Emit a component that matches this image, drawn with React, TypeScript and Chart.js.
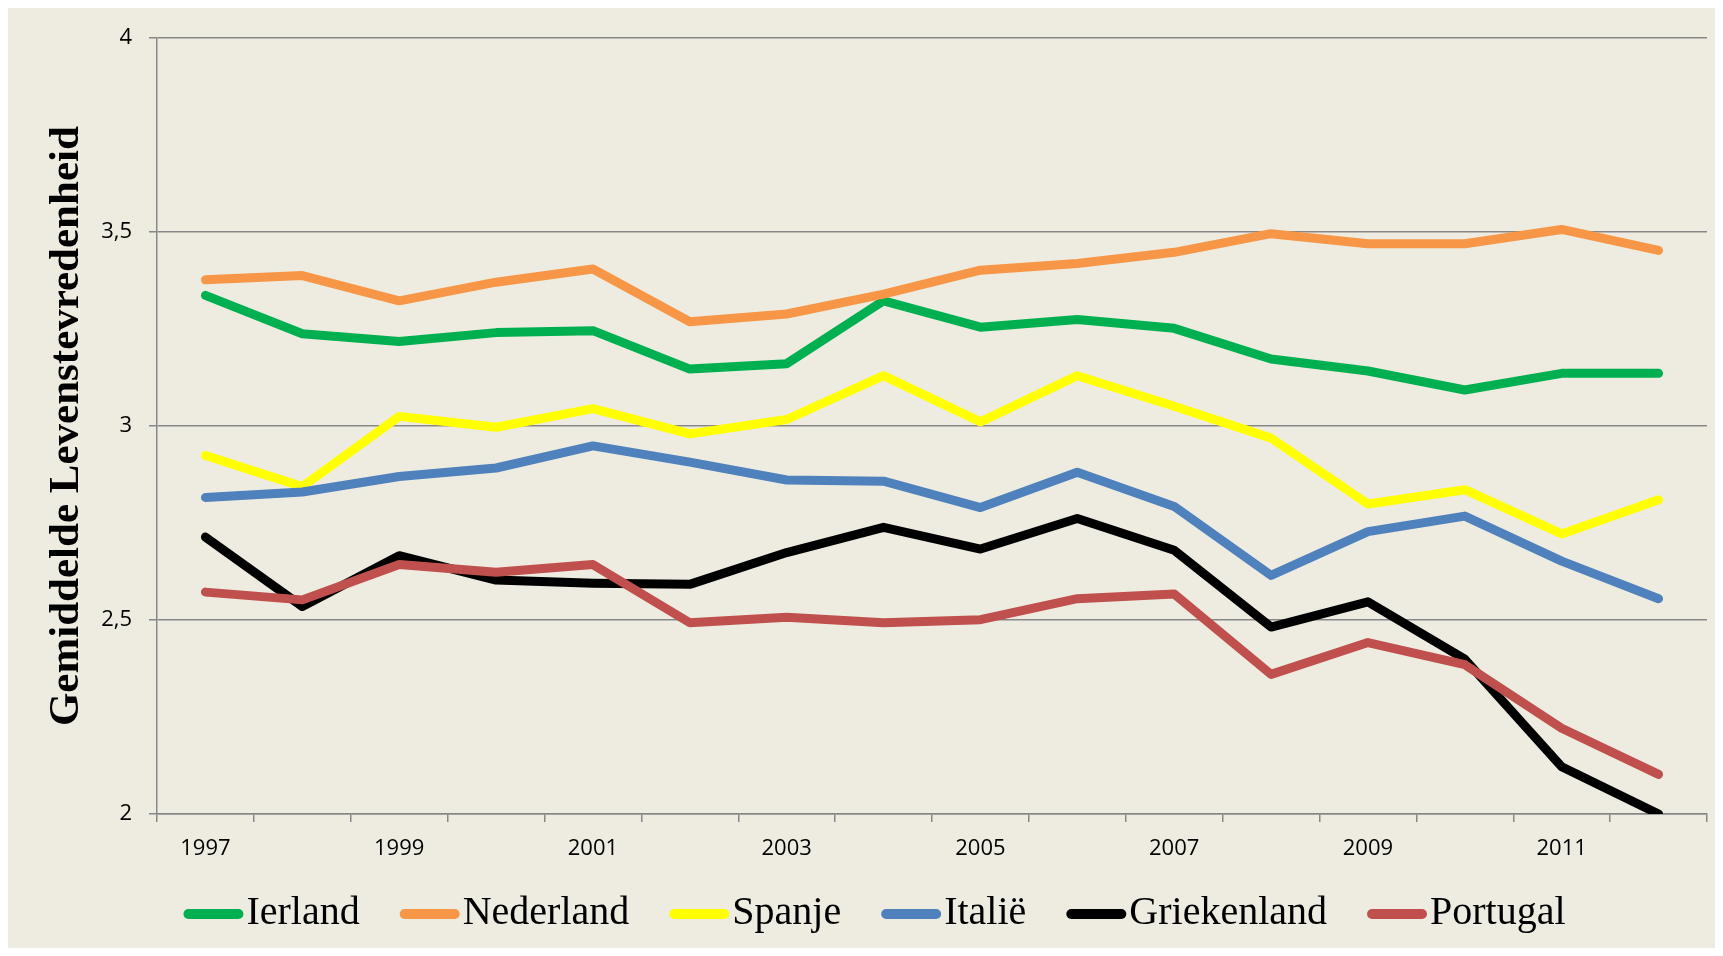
import React, { useEffect, useRef } from 'react';
import { Chart, registerables } from 'chart.js';

Chart.register(...registerables);

const years = ['1997', '1998', '1999', '2000', '2001', '2002', '2003', '2004', '2005', '2006', '2007', '2008', '2009', '2010', '2011', '2012'];

const ierland = [3.337, 3.238, 3.218, 3.241, 3.246, 3.147, 3.161, 3.323, 3.255, 3.275, 3.252, 3.173, 3.142, 3.093, 3.136, 3.136];
const nederland = [3.377, 3.388, 3.323, 3.371, 3.405, 3.269, 3.289, 3.340, 3.402, 3.419, 3.448, 3.496, 3.470, 3.470, 3.507, 3.453];
const spanje = [2.924, 2.844, 3.025, 2.997, 3.045, 2.980, 3.017, 3.130, 3.011, 3.130, 3.051, 2.969, 2.799, 2.836, 2.722, 2.810];
const italie = [2.816, 2.830, 2.870, 2.892, 2.949, 2.907, 2.861, 2.858, 2.790, 2.881, 2.793, 2.615, 2.728, 2.768, 2.652, 2.555];
const griekenland = [2.714, 2.535, 2.666, 2.603, 2.595, 2.592, 2.674, 2.739, 2.683, 2.762, 2.680, 2.482, 2.547, 2.399, 2.122, 2.000];
const portugal = [2.572, 2.552, 2.643, 2.623, 2.643, 2.493, 2.507, 2.493, 2.501, 2.555, 2.567, 2.360, 2.442, 2.385, 2.221, 2.102];

const seriesNames = ['Ierland', 'Nederland', 'Spanje', 'Italië', 'Griekenland', 'Portugal'];
const seriesValues = [ierland, nederland, spanje, italie, griekenland, portugal];
const seriesColors = ['#00B050', '#F79646', '#FFFF00', '#4F81BD', '#000000', '#C0504D'];

const yMin = 2;
const yMax = 4;
const yStep = 0.5;
const yTitle = 'Gemiddelde Levenstevredenheid';

const BG = '#EEECE1';
const AXIS = '#878787';

const bgPlugin = {
  id: 'bgFill',
  beforeDraw(chart: any) {
    const { ctx } = chart;
    ctx.save();
    ctx.fillStyle = BG;
    ctx.fillRect(0, 0, chart.width, chart.height);
    ctx.restore();
  },
};

const legendPlugin = {
  id: 'lineLegend',
  afterDraw(chart: any) {
    const { ctx } = chart;
    ctx.save();
    ctx.font = '40px "Liberation Serif"';
    const lineLen = 50;
    const lw = 10;
    const textGap = 3;
    const itemGap = 40;
    const items = chart.data.datasets.map((ds: any) => ({
      label: ds.label,
      color: ds.borderColor,
      w: ctx.measureText(ds.label).width,
    }));
    const total =
      items.reduce((s: number, it: any) => s + lineLen + lw + textGap + it.w, 0) +
      itemGap * (items.length - 1);
    let x = (chart.width - total) / 2 + 13;
    const y = chart.height - 34;
    for (const it of items) {
      ctx.strokeStyle = it.color;
      ctx.lineWidth = lw;
      ctx.lineCap = 'round';
      ctx.beginPath();
      ctx.moveTo(x + lw / 2, y);
      ctx.lineTo(x + lw / 2 + lineLen, y);
      ctx.stroke();
      x += lineLen + lw + textGap;
      ctx.fillStyle = '#000';
      ctx.textBaseline = 'middle';
      ctx.textAlign = 'left';
      ctx.fillText(it.label, x, y - 1);
      x += it.w + itemGap;
    }
    ctx.restore();
  },
};

export default function App() {
  const canvasRef = useRef<HTMLCanvasElement | null>(null);

  useEffect(() => {
    if (!canvasRef.current) return;
    const chart = new Chart(canvasRef.current, {
      type: 'line',
      data: {
        labels: years,
        datasets: seriesNames.map((name, i) => ({
          label: name,
          data: seriesValues[i],
          borderColor: seriesColors[i],
          backgroundColor: seriesColors[i],
          borderWidth: 9,
          borderCapStyle: 'round',
          borderJoinStyle: 'round',
          pointRadius: 0,
          pointHoverRadius: 0,
          tension: 0,
          fill: false,
          order: seriesNames.length - i,
        })),
      },
      options: {
        responsive: true,
        maintainAspectRatio: false,
        animation: false,
        events: [],
        layout: { padding: { top: 30, right: 8, bottom: 87, left: 0 } },
        plugins: {
          legend: { display: false },
          tooltip: { enabled: false },
          title: { display: false },
        },
        scales: {
          x: {
            type: 'category',
            offset: true,
            grid: {
              display: true,
              drawOnChartArea: false,
              drawTicks: true,
              tickLength: 8,
              offset: true,
              color: AXIS,
              lineWidth: 1.5,
            },
            border: { display: true, color: AXIS, width: 1.5 },
            ticks: {
              autoSkip: false,
              maxRotation: 0,
              minRotation: 0,
              padding: 14,
              color: '#000',
              font: { family: '"Open Sans"', size: 22 },
              callback: function (this: any, _v: any, idx: number) {
                return idx % 2 === 0 ? years[idx] : '';
              },
            },
            afterFit: (scale: any) => {
              scale.height = 47;
            },
          },
          y: {
            type: 'linear',
            min: yMin,
            max: yMax,
            grid: {
              display: true,
              drawOnChartArea: true,
              drawTicks: true,
              tickLength: 8,
              color: AXIS,
              lineWidth: 1.5,
            },
            border: { display: true, color: AXIS, width: 1.5 },
            ticks: {
              stepSize: yStep,
              padding: 17,
              color: '#000',
              font: { family: '"Open Sans"', size: 22 },
              callback: (v: any) => String(v).replace('.', ','),
            },
            title: {
              display: true,
              text: yTitle,
              color: '#000',
              font: { family: '"Liberation Serif"', size: 43, weight: 'bold', lineHeight: 1.2 },
              padding: { top: 33, bottom: 0 },
            },
            afterFit: (scale: any) => {
              scale.width = 149;
            },
          },
        },
      },
      plugins: [bgPlugin, legendPlugin],
    } as any);
    return () => chart.destroy();
  }, []);

  return (
    <div style={{ position: 'relative', width: '100%', height: '940px' }}>
      <canvas ref={canvasRef} />
    </div>
  );
}
